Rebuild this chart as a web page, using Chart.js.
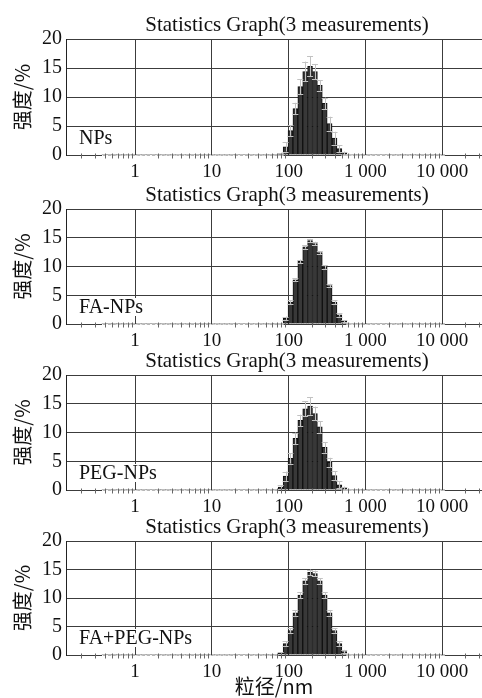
<!DOCTYPE html>
<html>
<head>
<meta charset="utf-8">
<script src="https://cdn.jsdelivr.net/npm/chart.js@4.4.1/dist/chart.umd.min.js"></script>
<style>
body{margin:0;background:#fff;width:482px;height:698px;overflow:hidden;position:relative}
.panel{position:absolute;left:0;width:482px}
canvas{display:block}
</style>
</head>
<body>
<div class="panel" style="top:9px"><canvas id="c0" width="482" height="174"></canvas></div>
<div class="panel" style="top:179px"><canvas id="c1" width="482" height="173"></canvas></div>
<div class="panel" style="top:345px"><canvas id="c2" width="482" height="173"></canvas></div>
<div class="panel" style="top:511px"><canvas id="c3" width="482" height="187"></canvas></div>
<script>
// size classes (nm) of the instrument, log spaced
const sizeBins = [0.4, 0.4632, 0.5365, 0.6213, 0.7195, 0.8332, 0.9649, 1.117, 1.294, 1.499,
  1.736, 2.01, 2.328, 2.696, 3.122, 3.615, 4.187, 4.849, 5.615, 6.503,
  7.531, 8.721, 10.1, 11.7, 13.54, 15.69, 18.17, 21.04, 24.36, 28.21,
  32.67, 37.84, 43.82, 50.75, 58.77, 68.06, 78.82, 91.28, 105.7, 122.4,
  141.8, 164.2, 190.1, 220.2, 255.0, 295.3, 342.0, 396.1, 458.7, 531.2,
  615.1, 712.4, 825.0, 955.4, 1106, 1281, 1484, 1718, 1990, 2305,
  2669, 3091, 3580, 4145, 4801, 5560, 6439, 7456, 8635, 10000];
// every class below this one and after the listed values reads 0
const firstBin = 36; // 78.82 nm

const sampleNames = ['NPs', 'FA-NPs', 'PEG-NPs', 'FA+PEG-NPs'];

// intensity % (mean of 3 measurements), from 78.82 nm upward
const npsMean    = [0.2, 1.4, 4.2, 8.0, 11.8, 14.4, 15.3, 14.4, 12.0, 8.9, 5.4, 2.9, 1.1, 0.3, 0.1, 0];
const npsSd      = [0.2, 0.8, 0.9, 1.0, 1.3, 1.7, 1.7, 1.3, 0.9, 1.0, 1.2, 1.1, 0.6, 0.3, 0.1, 0];
const faMean     = [0.1, 1.0, 3.8, 7.7, 10.9, 13.4, 14.5, 14.0, 12.4, 9.9, 6.7, 3.8, 1.6, 0.5, 0.1, 0];
const faSd       = [0.1, 0.3, 0.3, 0.3, 0.3, 0.3, 0.3, 0.3, 0.3, 0.3, 0.3, 0.3, 0.3, 0.2, 0.1, 0];
const pegMean    = [0.5, 2.4, 5.5, 9.0, 12.1, 14.1, 14.6, 13.3, 11.0, 7.4, 4.8, 2.5, 0.9, 0.3, 0.1, 0];
const pegSd      = [0.3, 0.8, 0.9, 1.0, 1.0, 1.3, 1.5, 1.2, 1.0, 0.9, 0.8, 0.8, 0.6, 0.3, 0.1, 0];
const faPegMean  = [0.3, 2.0, 4.3, 7.4, 10.5, 13.0, 14.5, 14.3, 13.0, 10.5, 7.4, 4.3, 2.0, 0.6, 0.1, 0];
const faPegSd    = [0.2, 0.4, 0.4, 0.5, 0.5, 0.5, 0.5, 0.5, 0.5, 0.5, 0.5, 0.4, 0.4, 0.3, 0.1, 0];

const xTickValues = [1, 10, 100, 1000, 10000];
const xTickLabels = ['1', '10', '100', '1 000', '10 000'];
const yTicks = [0, 5, 10, 15, 20];

const titleText = 'Statistics Graph(3 measurements)';

Chart.defaults.font.family = 'Liberation Serif';
Chart.defaults.color = '#111';

//fill the full size grid with the read values
function fullSeries(vals) {
  return sizeBins.map((s, i) => {
    const k = i - firstBin;
    return k >= 0 && k < vals.length ? vals[k] : 0;
  });
}

const panelPlugin = {
  id: 'panel',
  afterDatasetsDraw(chart, args, opts) {
    const ctx = chart.ctx;
    const xs = chart.scales.x, ys = chart.scales.y;
    const meta = chart.getDatasetMeta(0);
    const y0 = Math.round(ys.getPixelForValue(0) - 0.5) + 0.5;
    ctx.save();
    ctx.lineWidth = 1;
    meta.data.forEach((el, i) => {
      const v = opts.values[i], e = opts.errors[i];
      const w = el.width;
      if (v === 0) {
        //empty class: light mark on the base line
        ctx.strokeStyle = '#fff';
        ctx.beginPath(); ctx.moveTo(el.x - w / 2, y0); ctx.lineTo(el.x + w / 2, y0); ctx.stroke();
        ctx.strokeStyle = '#b5b5b5';
        ctx.beginPath(); ctx.moveTo(el.x - 1.5, y0); ctx.lineTo(el.x + 1.5, y0); ctx.stroke();
        return;
      }
      const top = ys.getPixelForValue(v + e);
      const bot = ys.getPixelForValue(Math.max(0, v - e));
      ctx.strokeStyle = '#c2c2c2';
      ctx.beginPath();
      ctx.moveTo(Math.round(el.x) + 0.5, top); ctx.lineTo(Math.round(el.x) + 0.5, bot);
      ctx.moveTo(el.x - 3, Math.round(top) + 0.5); ctx.lineTo(el.x + 3, Math.round(top) + 0.5);
      ctx.moveTo(el.x - 3, Math.round(bot) + 0.5); ctx.lineTo(el.x + 3, Math.round(bot) + 0.5);
      ctx.stroke();
    });
    //minor log ticks
    ctx.strokeStyle = '#666';
    ctx.beginPath();
    for (let p = -1; p <= 4; p++) {
      for (let m = 2; m <= 9; m++) {
        const v = m * Math.pow(10, p);
        if (v < xs.min || v > xs.max) continue;
        const px = Math.round(xs.getPixelForValue(v)) + 0.5;
        ctx.moveTo(px, y0 - 2); ctx.lineTo(px, y0 + 3);
      }
    }
    ctx.stroke();
    ctx.restore();
  },
  afterDraw(chart, args, opts) {
    const ctx = chart.ctx;
    const a = chart.chartArea;
    ctx.save();
    ctx.font = '21px "Liberation Serif"';
    ctx.fillStyle = '#111';
    ctx.textBaseline = 'middle';
    ctx.textAlign = 'center';
    ctx.fillText(titleText, (a.left + a.right) / 2 + 13, a.top - 14);
    //sample name with white box
    ctx.font = '20px "Liberation Serif"';
    ctx.textAlign = 'left';
    const ty = a.bottom - 17;
    const tw = ctx.measureText(opts.name).width;
    ctx.fillStyle = '#fff';
    ctx.fillRect(a.left + 10, ty - 9, tw + 8, 18);
    ctx.fillStyle = '#111';
    ctx.fillText(opts.name, a.left + 13, ty + 1);
    ctx.restore();
  }
};

const panels = [
  [npsMean, npsSd], [faMean, faSd], [pegMean, pegSd], [faPegMean, faPegSd]
];

panels.forEach(([mean, sd], idx) => {
  const last = idx === panels.length - 1;
  const values = fullSeries(mean);
  const errors = fullSeries(sd);
  new Chart(document.getElementById('c' + idx), {
    type: 'bar',
    plugins: [panelPlugin],
    data: {
      datasets: [{
        data: sizeBins.map((s, i) => ({ x: s, y: values[i] })),
        backgroundColor: '#383838',
        borderColor: '#111',
        borderWidth: ctx => (ctx.raw && ctx.raw.y > 0 ? 1 : 0),
        borderSkipped: 'start',
        barPercentage: 1,
        categoryPercentage: 1,
      }],
    },
    options: {
      responsive: false,
      animation: false,
      devicePixelRatio: 1,
      layout: { padding: { top: 30, right: 0, bottom: 0, left: 0 } },
      plugins: {
        legend: { display: false },
        tooltip: { enabled: false },
        panel: { name: sampleNames[idx], values: values, errors: errors },
      },
      scales: {
        x: {
          type: 'logarithmic',
          min: 0.126,
          max: 33000,
          offset: false,
          grid: { offset: false, color: '#3c3c3c', drawTicks: false },
          border: { display: false },
          afterBuildTicks: s => { s.ticks = xTickValues.map(v => ({ value: v })); },
          afterFit: s => { s.height = last ? 43 : 28; },
          ticks: {
            autoSkip: false, maxRotation: 0, padding: 6,
            font: { size: 19 },
            callback: (v, i) => xTickLabels[i],
          },
          title: {
            display: last,
            text: '粒径/nm',
            font: { family: 'Noto Sans CJK SC', size: 20 },
            padding: { top: 0, bottom: 0 },
          },
        },
        y: {
          min: 0,
          max: 20,
          afterBuildTicks: s => { s.ticks = yTicks.map(v => ({ value: v })); },
          afterFit: s => { s.width = 66; },
          grid: { color: '#3c3c3c', drawTicks: false },
          border: { color: '#222' },
          ticks: { padding: 4, font: { size: 20 } },
          title: {
            display: true,
            text: '强度/%',
            font: { family: 'Noto Sans CJK SC', size: 20 },
            padding: { top: 10, bottom: 0 },
          },
        },
      },
    },
  });
});
</script>
</body>
</html>
